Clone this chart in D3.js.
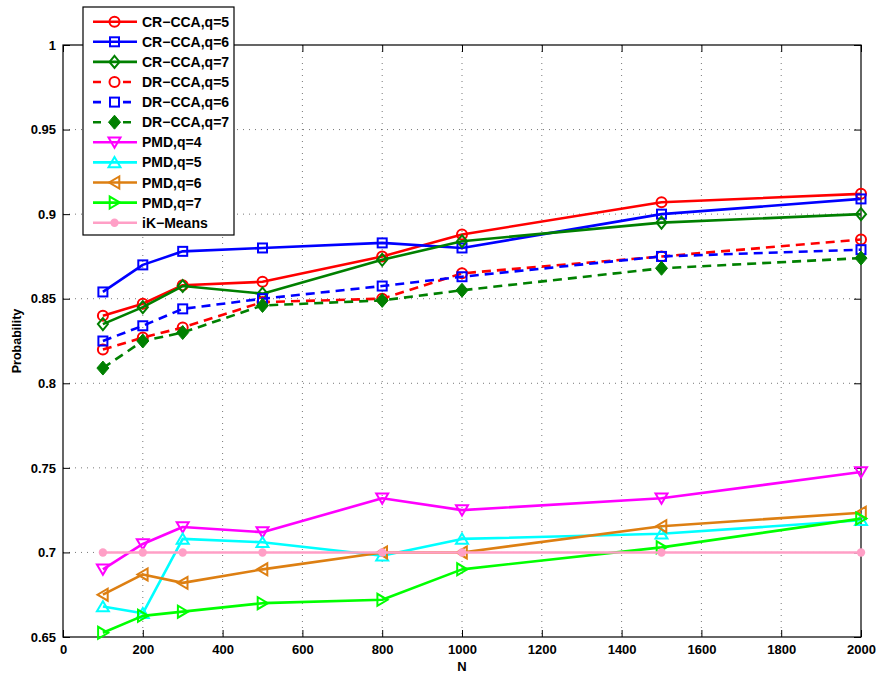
<!DOCTYPE html>
<html>
<head>
<meta charset="utf-8">
<script src="https://cdn.jsdelivr.net/npm/d3@7"></script>
<style>
  html, body { margin: 0; padding: 0; background: #fff; }
  svg { display: block; font-family: "Liberation Sans", Arial, sans-serif; }
</style>
</head>
<body>
<svg id="chart" width="882" height="675"></svg>
<script>
// Sample sizes on the x axis
const sampleSizes = [100, 200, 300, 500, 800, 1000, 1500, 2000];

// Detection probability per method
const crCcaQ5 = [0.840, 0.847, 0.858, 0.860, 0.875, 0.888, 0.907, 0.912];
const crCcaQ6 = [0.854, 0.870, 0.878, 0.880, 0.883, 0.880, 0.900, 0.909];
const crCcaQ7 = [0.835, 0.845, 0.8575, 0.853, 0.873, 0.884, 0.895, 0.900];
const drCcaQ5 = [0.820, 0.827, 0.833, 0.848, 0.850, 0.865, 0.875, 0.885];
const drCcaQ6 = [0.825, 0.834, 0.844, 0.850, 0.8575, 0.863, 0.875, 0.879];
const drCcaQ7 = [0.809, 0.825, 0.830, 0.846, 0.849, 0.855, 0.868, 0.874];
const pmdQ4 = [0.690, 0.705, 0.715, 0.712, 0.732, 0.725, 0.732, 0.7475];
const pmdQ5 = [0.668, 0.664, 0.708, 0.706, 0.698, 0.708, 0.711, 0.719];
const pmdQ6 = [0.675, 0.687, 0.682, 0.690, 0.700, 0.700, 0.7155, 0.7235];
const pmdQ7 = [0.6525, 0.6625, 0.665, 0.670, 0.672, 0.690, 0.703, 0.720];
const ikMeans = [0.700, 0.700, 0.700, 0.700, 0.700, 0.700, 0.700, 0.700];

// Axis ticks
const xTicks = [0, 200, 400, 600, 800, 1000, 1200, 1400, 1600, 1800, 2000];
const xTickLabels = ["0", "200", "400", "600", "800", "1000", "1200", "1400", "1600", "1800", "2000"];
const yTicks = [0.65, 0.7, 0.75, 0.8, 0.85, 0.9, 0.95, 1];
const yTickLabels = ["0.65", "0.7", "0.75", "0.8", "0.85", "0.9", "0.95", "1"];

const seriesNames = ["CR\u2212CCA,q=5", "CR\u2212CCA,q=6", "CR\u2212CCA,q=7",
  "DR\u2212CCA,q=5", "DR\u2212CCA,q=6", "DR\u2212CCA,q=7",
  "PMD,q=4", "PMD,q=5", "PMD,q=6", "PMD,q=7", "iK\u2212Means"];
const seriesValues = [crCcaQ5, crCcaQ6, crCcaQ7, drCcaQ5, drCcaQ6, drCcaQ7,
  pmdQ4, pmdQ5, pmdQ6, pmdQ7, ikMeans];

// Styling per series
const styles = [
  { color: "#ff0000", dash: null, marker: "circle" },
  { color: "#0000ff", dash: null, marker: "square" },
  { color: "#008000", dash: null, marker: "diamond" },
  { color: "#ff0000", dash: "9,6", marker: "circle" },
  { color: "#0000ff", dash: "9,6", marker: "square" },
  { color: "#008000", dash: "9,6", marker: "diamondFilled" },
  { color: "#ff00ff", dash: null, marker: "triDown" },
  { color: "#00ffff", dash: null, marker: "triUp" },
  { color: "#dd7f12", dash: null, marker: "triLeft" },
  { color: "#00ff00", dash: null, marker: "triRight" },
  { color: "#ff9fc6", dash: null, marker: "dot" }
];

const svg = d3.select("#chart");
const plot = { left: 63, right: 861, top: 45, bottom: 637 };

const x = d3.scaleLinear().domain([0, 2000]).range([plot.left, plot.right]);
const y = d3.scaleLinear().domain([0.65, 1]).range([plot.bottom, plot.top]);

// Dotted grid
const grid = svg.append("g");
grid.selectAll("line.gx").data(xTicks.slice(1, -1)).join("line")
  .attr("x1", d => x(d)).attr("x2", d => x(d))
  .attr("y1", plot.top).attr("y2", plot.bottom)
  .attr("stroke", "#555").attr("stroke-width", 0.8).attr("stroke-dasharray", "1,5");
grid.selectAll("line.gy").data(yTicks.slice(1, -1)).join("line")
  .attr("y1", d => y(d)).attr("y2", d => y(d))
  .attr("x1", plot.left).attr("x2", plot.right)
  .attr("stroke", "#555").attr("stroke-width", 0.8).attr("stroke-dasharray", "1,5");

// Axes with inward ticks on all four sides
const tickLen = 7;
const axisBottom = d3.axisBottom(x).tickValues(xTicks).tickSizeInner(-tickLen).tickSizeOuter(0).tickPadding(8)
  .tickFormat((d, i) => xTickLabels[i]);
const axisTop = d3.axisTop(x).tickValues(xTicks).tickSizeInner(-tickLen).tickSizeOuter(0).tickFormat("");
const axisLeft = d3.axisLeft(y).tickValues(yTicks).tickSizeInner(-tickLen).tickSizeOuter(0).tickPadding(7)
  .tickFormat((d, i) => yTickLabels[i]);
const axisRight = d3.axisRight(y).tickValues(yTicks).tickSizeInner(-tickLen).tickSizeOuter(0).tickFormat("");

function styleAxis(g) {
  g.select(".domain").remove();
  g.selectAll(".tick line").attr("stroke", "#000").attr("stroke-width", 1);
  g.selectAll(".tick text").attr("fill", "#000").attr("font-size", 13).attr("font-weight", "bold")
    .attr("font-family", "'Liberation Sans', Arial, sans-serif");
}
svg.append("g").attr("transform", `translate(0,${plot.bottom})`).call(axisBottom).call(styleAxis);
svg.append("g").attr("transform", `translate(0,${plot.top})`).call(axisTop).call(styleAxis);
svg.append("g").attr("transform", `translate(${plot.left},0)`).call(axisLeft).call(styleAxis);
svg.append("g").attr("transform", `translate(${plot.right},0)`).call(axisRight).call(styleAxis);

// Frame
svg.append("rect")
  .attr("x", plot.left).attr("y", plot.top)
  .attr("width", plot.right - plot.left).attr("height", plot.bottom - plot.top)
  .attr("fill", "none").attr("stroke", "#000").attr("stroke-width", 1.2);

// Axis titles
svg.append("text").attr("x", (plot.left + plot.right) / 2).attr("y", 671)
  .attr("text-anchor", "middle").attr("font-size", 13).attr("font-weight", "bold").text("N");
svg.append("text")
  .attr("transform", `translate(21,${(plot.top + plot.bottom) / 2}) rotate(-90)`)
  .attr("text-anchor", "middle").attr("font-size", 12.5).attr("font-weight", "bold").text("Probability");

// Marker drawing
function drawMarker(g, type, cx, cy, color) {
  const sw = 2;
  if (type === "circle") {
    g.append("circle").attr("cx", cx).attr("cy", cy).attr("r", 5)
      .attr("fill", "none").attr("stroke", color).attr("stroke-width", sw);
  } else if (type === "square") {
    g.append("rect").attr("x", cx - 4.5).attr("y", cy - 4.5).attr("width", 9).attr("height", 9)
      .attr("fill", "none").attr("stroke", color).attr("stroke-width", sw);
  } else if (type === "diamond") {
    g.append("path").attr("d", `M${cx},${cy - 6}L${cx + 5},${cy}L${cx},${cy + 6}L${cx - 5},${cy}Z`)
      .attr("fill", "none").attr("stroke", color).attr("stroke-width", sw);
  } else if (type === "diamondFilled") {
    g.append("path").attr("d", `M${cx},${cy - 7}L${cx + 6},${cy}L${cx},${cy + 7}L${cx - 6},${cy}Z`)
      .attr("fill", color).attr("stroke", color).attr("stroke-width", 1);
  } else if (type === "dot") {
    g.append("circle").attr("cx", cx).attr("cy", cy).attr("r", 4.2).attr("fill", color);
  } else {
    const r = 6;
    let pts;
    if (type === "triDown") pts = [[-r, -r * 0.8], [r, -r * 0.8], [0, r * 0.9]];
    if (type === "triUp") pts = [[-r, r * 0.8], [r, r * 0.8], [0, -r * 0.9]];
    if (type === "triLeft") pts = [[r * 0.8, -r], [r * 0.8, r], [-r * 0.9, 0]];
    if (type === "triRight") pts = [[-r * 0.8, -r], [-r * 0.8, r], [r * 0.9, 0]];
    g.append("path").attr("d", "M" + pts.map(p => `${cx + p[0]},${cy + p[1]}`).join("L") + "Z")
      .attr("fill", "none").attr("stroke", color).attr("stroke-width", sw).attr("stroke-linejoin", "miter");
  }
}

// Series lines and markers
const line = d3.line().x(d => x(d[0])).y(d => y(d[1]));
const seriesLayer = svg.append("g");
seriesValues.forEach((vals, i) => {
  const st = styles[i];
  const pts = sampleSizes.map((n, k) => [n, vals[k]]);
  const g = seriesLayer.append("g");
  g.append("path").attr("d", line(pts)).attr("fill", "none")
    .attr("stroke", st.color).attr("stroke-width", 2.6)
    .attr("stroke-dasharray", st.dash).attr("stroke-linejoin", "round");
  pts.forEach(p => drawMarker(g, st.marker, x(p[0]), y(p[1]), st.color));
});

// Legend
const legend = svg.append("g");
const lg = { x: 83, y: 7, w: 151, h: 228, row0: 21.7, step: 20.1 };
legend.append("rect").attr("x", lg.x).attr("y", lg.y).attr("width", lg.w).attr("height", lg.h)
  .attr("fill", "#fff").attr("stroke", "#000").attr("stroke-width", 1.2);
seriesNames.forEach((name, i) => {
  const st = styles[i];
  const cy = lg.row0 + i * lg.step;
  const g = legend.append("g");
  g.append("line").attr("x1", 93).attr("x2", 137).attr("y1", cy).attr("y2", cy)
    .attr("stroke", st.color).attr("stroke-width", 2.6).attr("stroke-dasharray", st.dash ? "8,7" : null);
  if (st.dash) {
    g.append("circle").attr("cx", 114.5).attr("cy", cy).attr("r", 7).attr("fill", "#fff");
  }
  drawMarker(g, st.marker, 114.5, cy, st.color);
  g.append("text").attr("x", 142).attr("y", cy).attr("dy", "0.36em")
    .attr("font-size", 14).attr("font-weight", "bold").attr("fill", "#000").text(name);
});
</script>
</body>
</html>
